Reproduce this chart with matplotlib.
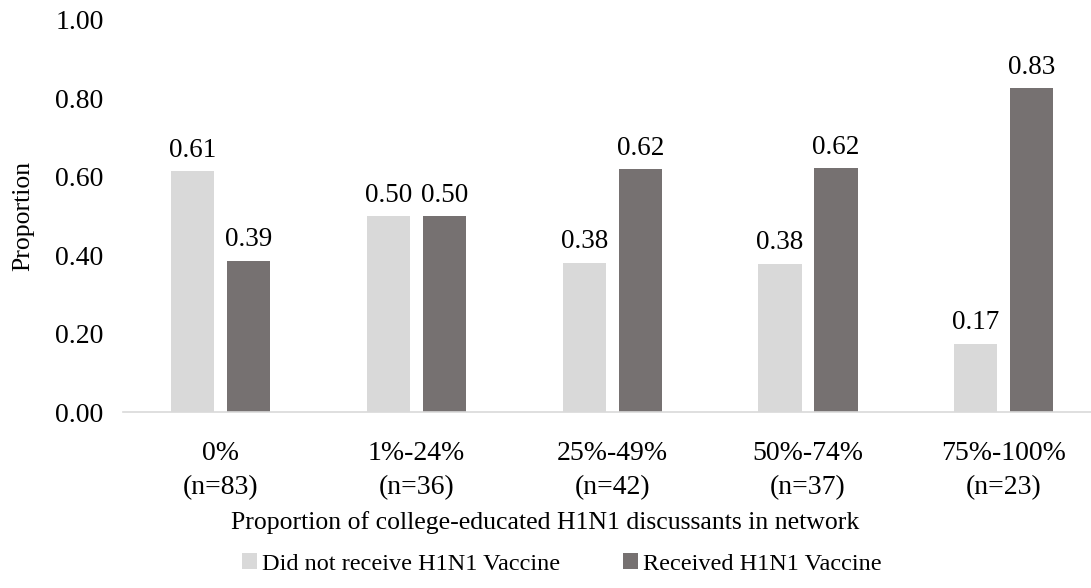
import numpy as np
import matplotlib.pyplot as plt

# data
categories = ["0%\n(n=83)", "1%-24%\n(n=36)", "25%-49%\n(n=42)", "50%-74%\n(n=37)", "75%-100%\n(n=23)"]
not_received = [0.614, 0.500, 0.381, 0.378, 0.174]
received = [0.386, 0.500, 0.619, 0.622, 0.826]
series_names = ["Did not receive H1N1 Vaccine", "Received H1N1 Vaccine"]

plt.rcParams['font.family'] = ['Liberation Serif', 'DejaVu Serif']

c1, c2 = "#d9d9d9", "#767171"

fig = plt.figure(figsize=(10.91, 5.88), dpi=100)
ax = fig.add_axes([0.1127, 0.2993, 0.897, 0.6667])

x = np.arange(len(categories))
w = 0.22
off = 0.143
b1 = ax.bar(x - off, not_received, w, color=c1, label=series_names[0])
b2 = ax.bar(x + off, received, w, color=c2, label=series_names[1])

for bars in (b1, b2):
    for b in bars:
        ax.annotate("%.2f" % b.get_height(), (b.get_x() + b.get_width() / 2, b.get_height()),
                    xytext=(0, 6), textcoords="offset points", ha="center", va="bottom", fontsize=19.5)

ax.set_xlim(-0.5, len(categories) - 0.5)
ax.set_ylim(0, 1.0)
ax.set_yticks(np.arange(0, 1.01, 0.2))
ax.set_yticklabels(["%.2f" % v for v in np.arange(0, 1.01, 0.2)])
ax.set_xticks(x)
ax.set_xticklabels(categories, linespacing=1.45)
ax.tick_params(length=0)
ax.tick_params(axis='x', pad=21, labelsize=20)
ax.tick_params(axis='y', pad=14, labelsize=20)

for s in ["top", "right", "left"]:
    ax.spines[s].set_visible(False)
ax.spines["bottom"].set_color("#d9d9d9")
ax.spines["bottom"].set_linewidth(1.2)

ax.set_ylabel("Proportion", fontsize=18.5, labelpad=15)
ax.set_xlabel("Proportion of college-educated H1N1 discussants in network", fontsize=18.5)
ax.xaxis.set_label_coords(0.431, -0.253)

fig.legend(loc="center", ncol=2, frameon=False, fontsize=17.5,
           handlelength=0.6, handleheight=0.6, handletextpad=0.2, columnspacing=2.6,
           bbox_to_anchor=(0.515, 1 - 564 / 588))

fig.savefig("out.png", dpi=100)
